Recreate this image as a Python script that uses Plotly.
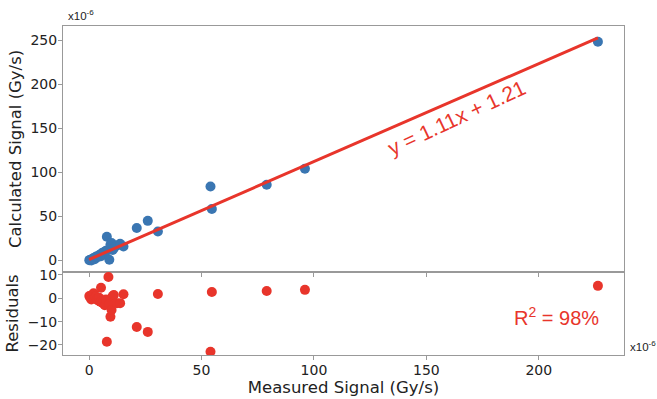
import plotly.graph_objects as go
from plotly.subplots import make_subplots

measured = [0.1, 0.5, 1.0, 1.5, 2.0, 2.5, 3.0, 3.5, 4.0, 4.5, 5.0, 5.3, 6.0, 6.5, 7.0, 7.5,
            7.9, 8.6, 9.0, 9.5, 10.0, 10.5, 11.0, 12.4, 13.8, 15.3, 21.2, 26.1, 30.6,
            54.0, 54.6, 79.0, 96.0, 226.3]
calculated = [0.5, 1, 0, 2, 3, 1.5, 4, 5, 4, 6, 7, 5, 9, 8, 10, 11,
              27, 12, 1, 18, 20, 12, 14, 17, 19, 16, 37, 45, 33,
              84, 58.5, 86, 104, 248]
residuals = [1.0, 0.3, -0.5, 1.5, 2.1, 0.5, 0.8, -0.5, -1, 0.2, -1.5, 4.5, -2, -1, -3, -0.5,
             -18.6, 9.1, -2.5, -7.9, -5, 1.0, 1.4, -2.1, -2.1, 1.7, -12.3, -14.4, 1.8,
             -22.9, 2.7, 3.1, 3.6, 5.3]
slope, intercept = 1.11, 1.21
fit_x = [0, 226.3]
fit_y = [slope * v + intercept for v in fit_x]
x_ticks = [0, 50, 100, 150, 200]
y_ticks = [0, 50, 100, 150, 200, 250]
r_ticks = [-20, -10, 0, 10]

BLUE = "#3a76b2"
RED = "#e8352b"
AX_FONT = "DejaVu Sans"
TXT_FONT = "Liberation Sans"

fig = make_subplots(rows=2, cols=1, shared_xaxes=True, vertical_spacing=0,
                    row_heights=[0.7473, 0.2527])

fig.add_trace(go.Scatter(x=measured, y=calculated, mode="markers",
                         marker=dict(color=BLUE, size=10), showlegend=False), row=1, col=1)
fig.add_trace(go.Scatter(x=fit_x, y=fit_y, mode="lines",
                         line=dict(color=RED, width=3), showlegend=False), row=1, col=1)
fig.add_trace(go.Scatter(x=measured, y=residuals, mode="markers",
                         marker=dict(color=RED, size=10), showlegend=False), row=2, col=1)

axis_common = dict(showgrid=False, zeroline=False, showline=True, linecolor="#999999",
                   linewidth=1, mirror=True, ticks="outside", ticklen=4, tickcolor="#999999",
                   automargin=False, ticklabelstandoff=-2,
                   tickfont=dict(family=AX_FONT, size=14, color="#222"))

fig.update_xaxes(**axis_common, range=[-11.6, 237.9], tickvals=x_ticks)
fig.update_xaxes(showticklabels=False, row=1, col=1)
fig.update_xaxes(title=dict(text="Measured Signal (Gy/s)", font=dict(family=AX_FONT, size=16.5, color="#222"),
                            standoff=0), row=2, col=1)
fig.update_yaxes(**axis_common)
fig.update_yaxes(range=[-12.8, 265.9], tickvals=y_ticks,
                 title=dict(text="Calculated Signal (Gy/s)", font=dict(family=AX_FONT, size=16.5, color="#222"),
                            standoff=4), row=1, col=1)
fig.update_yaxes(range=[-24.3, 11.3], tickvals=r_ticks,
                 title=dict(text="Residuals", font=dict(family=AX_FONT, size=16.5, color="#222"),
                            standoff=4), row=2, col=1)

fig.add_annotation(text="y = 1.11x + 1.21", xref="x", yref="y", x=163.6, y=162.5,
                   showarrow=False, textangle=-25, font=dict(family=TXT_FONT, size=21, color=RED))
fig.add_annotation(text="R<sup>2</sup> = 98%", xref="x2", yref="y2", x=208, y=-7.6,
                   showarrow=False, font=dict(family=TXT_FONT, size=20, color=RED))
fig.add_annotation(text="x10<sup>-6</sup>", xref="paper", yref="paper", x=0.0, y=1.0,
                   xanchor="left", yanchor="bottom", yshift=2, xshift=3, showarrow=False,
                   font=dict(family=TXT_FONT, size=11.5, color="#222"))
fig.add_annotation(text="x10<sup>-6</sup>", xref="paper", yref="paper", x=1.0, y=0.0,
                   xanchor="left", yanchor="bottom", xshift=4, showarrow=False,
                   font=dict(family=TXT_FONT, size=11.5, color="#222"))

fig.update_layout(width=657, height=399, margin=dict(l=63, r=33, t=26, b=44),
                  plot_bgcolor="white", paper_bgcolor="white",
                  font=dict(family=AX_FONT))
fig.write_html("out.html", config={"displayModeBar": False},
               post_script="document.body.style.margin='0';")
